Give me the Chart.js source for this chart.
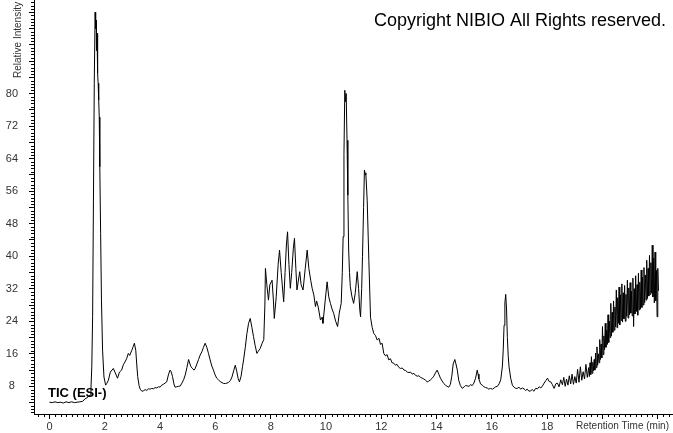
<!DOCTYPE html>
<html>
<head>
<meta charset="utf-8">
<title>TIC (ESI-)</title>
<script src="https://cdn.jsdelivr.net/npm/chart.js@4.4.0/dist/chart.umd.min.js"></script>
<style>
  body { margin: 0; background: #fff; }
  #wrap { width: 673px; height: 433px; }
</style>
</head>
<body>
<div id="wrap"><canvas id="ticChart" width="673" height="433"></canvas></div>
<script>
// Chromatogram: retention time (min) / relative intensity
const timeEarly = [0.00, 0.10, 0.20, 0.30, 0.40, 0.50, 0.60, 0.70, 0.80, 0.90,
  1.00, 1.10, 1.20, 1.28, 1.36, 1.43, 1.47, 1.50, 1.53, 1.56,
  1.59, 1.62, 1.65, 1.67, 1.69, 1.70, 1.72, 1.74, 1.76, 1.78,
  1.80, 1.82, 1.85, 1.88, 1.92, 1.97, 2.03];
const intEarly = [4.1, 4.0, 4.2, 4.0, 4.1, 3.9, 4.2, 4.0, 4.2, 4.0,
  4.1, 4.2, 4.3, 4.9, 5.2, 5.6, 5.9, 7.5, 12.8, 25.1,
  53.8, 82.5, 100, 96, 98, 90.6, 94.8, 85, 82.5, 78.4,
  74.2, 62, 45.6, 29.2, 16.9, 10.3, 8.3];

const timeHump = [2.07, 2.13, 2.20, 2.31, 2.38, 2.46, 2.53, 2.61, 2.67, 2.73,
  2.79, 2.85, 2.90, 2.98, 3.03, 3.07, 3.12, 3.16, 3.19, 3.24,
  3.28, 3.34, 3.40, 3.46, 3.52, 3.58, 3.64, 3.70, 3.76, 3.82,
  3.88, 3.94, 4.00, 4.06, 4.12, 4.18, 4.24, 4.30, 4.36, 4.40,
  4.45, 4.50, 4.54, 4.60, 4.67, 4.73, 4.79, 4.85, 4.91, 4.97,
  5.03, 5.08, 5.12, 5.18, 5.23, 5.27, 5.33, 5.39, 5.45, 5.51,
  5.57, 5.63, 5.69, 5.75, 5.81, 5.87, 5.93, 5.99, 6.05, 6.11,
  6.17, 6.24, 6.30, 6.36, 6.42, 6.48, 6.54, 6.60, 6.66, 6.72,
  6.77, 6.82, 6.87, 6.93, 6.98, 7.02, 7.08, 7.14, 7.20, 7.26,
  7.32, 7.38, 7.44, 7.50, 7.55];
const intHump = [8.7, 9.5, 11.5, 12.4, 11.3, 10.0, 11.5, 12.0, 13.3, 14.0,
  14.8, 16.1, 15.6, 16.9, 17.8, 18.6, 16.9, 13.0, 10.4, 8.2,
  7.3, 6.8, 6.9, 7.2, 7.0, 7.4, 7.3, 7.5, 7.4, 7.7,
  7.6, 7.9, 7.8, 8.3, 8.5, 8.8, 9.1, 10.8, 12.0, 11.6,
  10.4, 8.6, 7.8, 7.9, 8.0, 8.1, 8.8, 9.6, 10.8, 12.6,
  14.6, 13.5, 12.8, 12.3, 12.0, 12.4, 13.5, 14.6, 15.7, 16.5,
  17.6, 18.6, 17.6, 16.1, 14.5, 13.0, 12.0, 10.8, 10.0, 9.6,
  9.2, 8.9, 8.7, 8.7, 8.8, 9.0, 9.4, 10.3, 11.8, 13.2,
  11.8, 10.0, 9.1, 10.5, 12.8, 14.5, 17.5, 21.0, 23.5, 24.7,
  22.5, 20.2, 18.0, 16.1, 16.6];

const timeCluster = [7.62, 7.69, 7.75, 7.79, 7.81, 7.86, 7.92, 7.97, 8.05, 8.10,
  8.13, 8.20, 8.27, 8.32, 8.38, 8.47, 8.52, 8.57, 8.61, 8.66,
  8.71, 8.76, 8.82, 8.86, 8.91, 8.95, 9.05, 9.10, 9.17, 9.25,
  9.32, 9.38, 9.45, 9.50, 9.56, 9.62, 9.66, 9.72, 9.80, 9.86,
  9.89, 9.97, 10.04, 10.10, 10.16, 10.22, 10.28, 10.35, 10.42, 10.48,
  10.55, 10.59, 10.62, 10.65, 10.68, 10.71, 10.73, 10.76, 10.79, 10.82,
  10.85, 10.88, 10.94, 11.00, 11.06, 11.13, 11.18, 11.22, 11.25, 11.29,
  11.32, 11.36, 11.39, 11.42, 11.44, 11.49, 11.55];
const intCluster = [17.3, 18.6, 19.5, 28.0, 37.0, 33.0, 29.2, 33.0, 34.1, 29.0,
  24.7, 30.0, 38.0, 41.5, 36.0, 28.8, 36.0, 43.0, 46.0, 38.0,
  32.1, 36.0, 42.0, 44.4, 37.0, 31.7, 36.2, 33.0, 31.7, 37.0,
  41.5, 37.0, 34.0, 32.1, 30.5, 27.6, 29.0, 27.5, 24.3, 25.0,
  23.5, 29.0, 33.7, 30.0, 28.4, 27.0, 25.9, 24.0, 22.7, 26.0,
  28.4, 36.0, 44.8, 65.0, 80.8, 78.0, 80.0, 68.5, 55.0, 41.5,
  36.0, 32.5, 30.0, 28.4, 31.0, 36.2, 32.0, 27.0, 25.1, 32.0,
  39.9, 52.0, 61.2, 60.0, 60.5, 53.8, 39.0];

const timeTail = [11.61, 11.67, 11.73, 11.79, 11.85, 11.92, 11.97, 12.03, 12.09, 12.15,
  12.21, 12.27, 12.33, 12.39, 12.45, 12.51, 12.57, 12.63, 12.69, 12.76,
  12.82, 12.88, 12.94, 13.00, 13.06, 13.12, 13.18, 13.24, 13.30, 13.36,
  13.42, 13.48, 13.54, 13.60, 13.66, 13.72, 13.78, 13.84, 13.90, 13.96,
  14.02, 14.08, 14.14, 14.20, 14.26, 14.32, 14.38, 14.44, 14.50, 14.55,
  14.60, 14.66, 14.70, 14.75, 14.80, 14.86, 14.93, 15.00, 15.05, 15.11,
  15.17, 15.23, 15.29, 15.35, 15.41, 15.47, 15.50, 15.53, 15.59, 15.65,
  15.71, 15.77, 15.83, 15.89, 15.95, 16.02, 16.08, 16.14, 16.20, 16.26,
  16.32, 16.38, 16.41, 16.44, 16.47, 16.50, 16.53, 16.56, 16.59, 16.62,
  16.68, 16.74, 16.80, 16.86, 16.92, 16.98, 17.04, 17.10, 17.16, 17.22,
  17.28, 17.34, 17.40, 17.46, 17.52, 17.58, 17.65, 17.71, 17.77, 17.83,
  17.89, 17.95, 18.01, 18.07, 18.13, 18.19, 18.25, 18.31, 18.37, 18.43,
  18.49];
const intTail = [25.0, 22.5, 21.0, 20.5, 19.4, 19.8, 18.3, 18.6, 16.1, 15.5,
  15.8, 14.5, 14.8, 13.8, 13.7, 13.2, 13.4, 12.7, 12.4, 12.5,
  12.0, 11.9, 11.5, 11.4, 11.5, 11.0, 11.2, 10.7, 10.5, 10.6,
  10.2, 10.0, 9.8, 9.5, 9.1, 9.3, 9.6, 10.0, 10.5, 11.3,
  12.0, 11.0, 10.0, 9.3, 8.7, 8.3, 8.0, 7.8, 8.5, 10.5,
  13.5, 14.6, 13.5, 12.0, 9.5, 8.2, 7.5, 7.9, 8.2, 8.1,
  8.0, 8.4, 8.2, 8.8, 10.0, 12.0, 11.0, 9.8, 8.6, 8.3,
  7.9, 7.7, 7.6, 7.3, 7.5, 7.3, 7.6, 7.9, 8.0, 8.6,
  9.6, 13.0, 16.9, 23.0, 28.5, 30.6, 27.0, 20.0, 15.5, 12.8,
  10.0, 8.3, 7.8, 7.5, 7.5, 7.8, 7.3, 7.6, 7.4, 7.0,
  7.3, 6.8, 6.9, 7.2, 6.8, 7.5, 7.4, 7.9, 7.6, 8.1,
  8.8, 9.4, 10.0, 9.2, 9.1, 8.4, 7.5, 8.6, 8.8, 7.9,
  9.6];

// noisy rise at the end of the run
const timeNoisy = [18.55, 18.60, 18.65, 18.70, 18.75, 18.80, 18.85, 18.90, 18.95, 19.00,
  19.05, 19.10, 19.15, 19.20, 19.25, 19.30, 19.35, 19.40, 19.45,
  19.500, 19.525, 19.550, 19.575, 19.600, 19.625, 19.650, 19.675, 19.700, 19.725,
  19.750, 19.775, 19.800, 19.825, 19.850, 19.875, 19.900, 19.925, 19.950, 19.975,
  20.000, 20.025, 20.050, 20.075, 20.100, 20.125, 20.150, 20.175, 20.200, 20.225,
  20.250, 20.275, 20.300, 20.325, 20.350, 20.375, 20.400, 20.425, 20.450, 20.475,
  20.500, 20.525, 20.550, 20.575, 20.600, 20.625, 20.650, 20.675, 20.700, 20.725,
  20.750, 20.775, 20.800, 20.825, 20.850, 20.875, 20.900, 20.925, 20.950, 20.975,
  21.000, 21.025, 21.050, 21.075, 21.100, 21.125, 21.150, 21.175, 21.200, 21.225,
  21.250, 21.275, 21.300, 21.325, 21.350, 21.375, 21.400, 21.425, 21.450, 21.475,
  21.500, 21.525, 21.550, 21.575, 21.600, 21.625, 21.650, 21.675, 21.700, 21.725,
  21.750, 21.775, 21.800, 21.825, 21.850, 21.875, 21.900, 21.925, 21.950, 21.975,
  22.000, 22.025];
const intNoisy = [8.4, 10.2, 8.0, 9.8, 8.3, 10.6, 8.6, 11.0, 8.5, 10.4,
  8.8, 12.2, 9.0, 12.8, 9.5, 11.6, 9.8, 13.4, 10.2,
  12.6, 10.4, 13.8, 10.9, 15.3, 11.2, 13.9, 11.8, 14.6, 12.0,
  16.2, 12.6, 17.7, 13.2, 16.0, 13.8, 19.5, 14.6, 18.4, 15.0,
  22.7, 15.8, 20.4, 17.0, 23.5, 17.6, 21.8, 18.3, 25.6, 18.8,
  24.0, 20.0, 28.4, 20.4, 26.2, 21.3, 29.0, 21.8, 27.5, 22.6,
  31.7, 22.4, 29.8, 23.5, 32.4, 23.1, 30.5, 24.2, 33.2, 23.8,
  31.0, 24.6, 32.8, 24.0, 30.6, 25.2, 34.1, 24.8, 32.2, 25.6,
  33.5, 26.0, 31.4, 25.3, 34.6, 22.7, 32.0, 25.8, 35.2, 26.4,
  33.0, 25.5, 35.8, 26.8, 33.6, 27.0, 36.6, 27.4, 34.8, 28.0,
  37.2, 28.6, 35.4, 29.2, 39.0, 29.6, 37.0, 30.2, 40.2, 30.6,
  38.4, 31.0, 42.7, 30.0, 39.5, 28.5, 41.0, 29.0, 36.5, 25.1,
  37.0, 31.5];

// tick labels
const xTickLabels = [0, 2, 4, 6, 8, 10, 12, 14, 16, 18];
const yTickLabels = [8, 16, 24, 32, 40, 48, 56, 64, 72, 80];

const traceName = 'TIC (ESI-)';
const copyrightNote = 'Copyright NIBIO All Rights reserved.';
const xTitle = 'Retention Time (min)';
const yTitle = 'Relative Intensity';

const retentionTime = [].concat(timeEarly, timeHump, timeCluster, timeTail, timeNoisy);
const relIntensity = [].concat(intEarly, intHump, intCluster, intTail, intNoisy);

const FONT = '"Liberation Sans", Arial, sans-serif';

// minor ticks + the free text on the chart
const decorPlugin = {
  id: 'decor',
  afterDraw(chart) {
    const ctx = chart.ctx;
    const xs = chart.scales.x;
    const ys = chart.scales.y;
    const area = chart.chartArea;
    ctx.save();
    ctx.strokeStyle = '#000';
    ctx.lineWidth = 1;
    ctx.beginPath();
    // x minor ticks every 0.2 min
    for (let i = -2; i / 5 <= xs.max; i++) {
      if (i % 10 === 0) continue;
      const px = Math.round(xs.getPixelForValue(i / 5)) + 0.5;
      ctx.moveTo(px, area.bottom);
      ctx.lineTo(px, area.bottom + 3);
    }
    // y minor ticks every 0.8
    for (let i = 2; i * 0.8 <= ys.max; i++) {
      if (i % 5 === 0) continue;
      const py = Math.round(ys.getPixelForValue(i * 0.8)) + 0.5;
      ctx.moveTo(area.left - 3, py);
      ctx.lineTo(area.left, py);
    }
    ctx.stroke();

    ctx.fillStyle = '#000';
    ctx.textBaseline = 'alphabetic';
    ctx.font = '18px ' + FONT;
    ctx.textAlign = 'right';
    ctx.fillText(copyrightNote, 666, 26);

    ctx.font = 'bold 13px ' + FONT;
    ctx.textAlign = 'left';
    ctx.fillText(traceName, 48, 397);

    ctx.fillStyle = '#333';
    ctx.font = '10px ' + FONT;
    ctx.textAlign = 'right';
    ctx.textBaseline = 'middle';
    ctx.fillText(xTitle, 669, 426);

    ctx.translate(18.5, 78);
    ctx.rotate(-Math.PI / 2);
    ctx.textAlign = 'left';
    ctx.fillText(yTitle, 0, 0);
    ctx.restore();
  }
};

const ticCanvas = document.getElementById('ticChart').getContext('2d');

const ticChart = new Chart(ticCanvas, {
  type: 'line',
  data: {
    datasets: [{
      label: traceName,
      data: retentionTime.map((t, i) => ({ x: t, y: relIntensity[i] })),
      borderColor: '#000',
      borderWidth: 1,
      pointRadius: 0,
      tension: 0,
      fill: false
    }]
  },
  options: {
    responsive: false,
    animation: false,
    layout: { padding: 0 },
    plugins: {
      legend: { display: false },
      tooltip: { enabled: false }
    },
    scales: {
      x: {
        type: 'linear',
        min: -0.56,
        max: 22.55,
        border: { display: true, color: '#000', width: 1 },
        grid: { display: true, drawOnChartArea: false, drawTicks: true, tickLength: 5, color: '#000' },
        ticks: {
          stepSize: 2,
          includeBounds: false,
          autoSkip: false,
          maxRotation: 0,
          padding: 1,
          color: '#333',
          font: { family: FONT, size: 11 },
          callback: v => xTickLabels.includes(v) ? String(v) : ''
        },
        afterFit(scale) {
          scale.height = 19;
          scale.paddingLeft = 0;
          scale.paddingRight = 0;
        }
      },
      y: {
        type: 'linear',
        min: 1.2,
        max: 103,
        border: { display: true, color: '#000', width: 1 },
        grid: { display: true, drawOnChartArea: false, drawTicks: true, tickLength: 5, color: '#000' },
        ticks: {
          stepSize: 4,
          includeBounds: false,
          autoSkip: false,
          crossAlign: 'center',
          padding: 11,
          color: '#333',
          font: { family: FONT, size: 11 },
          callback: v => yTickLabels.includes(v) ? String(v) : ''
        },
        afterFit(scale) {
          scale.width = 34;
          scale.paddingTop = 0;
          scale.paddingBottom = 0;
        }
      }
    }
  },
  plugins: [decorPlugin]
});
</script>
</body>
</html>
